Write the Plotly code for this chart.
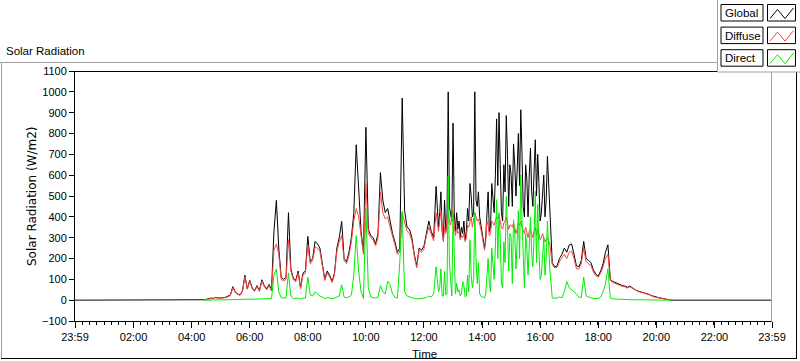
import plotly.graph_objects as go

# ---------------- data ----------------
# morning: 04:00 .. 12:30 every 5 min
# midday : 12:32.5 .. 16:15 every 2.5 min
# evening: 16:20 .. 21:00 every 5 min
morning_times = [240 + 5 * i for i in range(103)]
midday_times = [750 + 2.5 * j for j in range(1, 91)]
evening_times = [980 + 5 * i for i in range(57)]

global_morning = [
    0, 0, 0, 0, 0,
    2, 4, 6, 10, 8,
    14, 10, 10, 12, 14,
    18, 25, 65, 40, 30,
    25, 45, 120, 55, 95,
    60, 45, 70, 45, 98,
    70, 55, 75, 50, 330,
    479, 250, 110, 100, 110,
    420, 150, 105, 95, 140,
    60, 130, 140, 306, 185,
    200, 282, 270, 250, 180,
    100, 140, 120, 90, 130,
    250, 300, 378, 200, 185,
    230, 300, 418, 746, 520,
    330, 230, 830, 340, 310,
    300, 270, 320, 612, 480,
    420, 440, 380, 320, 280,
    230, 250, 970, 430, 350,
    340, 300, 220, 165, 250,
    240, 260, 330, 380, 330,
    300, 546, 350,
]
global_midday = [
    420, 520, 330, 290, 480, 330, 380, 1000, 450, 400,
    380, 850, 420, 330, 420, 340, 380, 300, 350, 320,
    380, 290, 330, 440, 380, 560, 500, 400, 420, 1000,
    480, 450, 520, 400, 360, 330, 280, 250, 300, 450,
    520, 330, 350, 560, 500, 420, 600, 870, 550, 900,
    650, 420, 380, 650, 520, 886, 700, 450, 650, 600,
    450, 750, 650, 500, 620, 800, 550, 914, 700, 450,
    400, 650, 580, 400, 600, 730, 520, 450, 620, 770,
    500, 700, 560, 380, 420, 530, 600, 400, 480, 690,
]
global_evening = [
    420, 180,
    160, 165, 200, 220, 250,
    230, 265, 270, 220, 165,
    160, 190, 282, 200, 190,
    180, 145, 125, 115, 140,
    175, 230, 266, 100, 90,
    85, 80, 72, 70, 68,
    62, 68, 62, 52, 45,
    42, 40, 35, 32, 28,
    22, 18, 15, 12, 10,
    7, 4, 2, 0, 0,
    0, 0, 0, 0, 0,
]

diffuse_morning = [
    None, None, None, None, None,
    1, 3, 5, 8, 7,
    12, 9, 9, 10, 12,
    16, 22, 60, 37, 28,
    23, 42, 112, 52, 90,
    56, 42, 66, 42, 92,
    65, 50, 70, 44, 240,
    270, 220, 100, 92, 100,
    290, 140, 98, 88, 130,
    55, 120, 130, 265, 175,
    190, 255, 250, 235, 170,
    95, 130, 112, 85, 122,
    235, 280, 310, 190, 175,
    215, 280, 380, 440, 400,
    310, 220, 560, 320, 300,
    290, 260, 300, 520, 420,
    390, 400, 350, 300, 265,
    220, 230, 420, 380, 330,
    320, 285, 210, 155, 240,
    230, 245, 310, 350, 315,
    285, 420, 330,
]
diffuse_midday = [
    380, 430, 360, 280, 350, 320, 400, 420, 380, 360,
    400, 430, 360, 310, 350, 320, 330, 290, 310, 300,
    320, 280, 300, 360, 350, 380, 400, 350, 390, 420,
    400, 380, 390, 370, 340, 310, 260, 240, 280, 380,
    360, 310, 320, 380, 370, 360, 380, 400, 390, 410,
    380, 350, 340, 370, 380, 400, 370, 340, 360, 360,
    350, 370, 350, 320, 340, 370, 360, 380, 350, 330,
    320, 350, 330, 300, 330, 340, 320, 300, 330, 350,
    310, 340, 320, 290, 300, 320, 300, 280, 290, 300,
]
diffuse_evening = [
    270, 170,
    155, 158, 185, 200, 220,
    200, 230, 235, 200, 150,
    150, 175, 250, 185, 175,
    165, 135, 118, 110, 130,
    160, 200, 220, 95, 85,
    80, 75, 68, 66, 64,
    58, 64, 58, 48, 42,
    40, 37, 32, 30, 26,
    20, 16, 13, 11, 9,
    6, 3, 2, 0, None,
    None, None, None, None, None,
]

direct_morning = [
    None, None, None, None, None,
    0, 0, 0, 1, 1,
    1, 1, 1, 1, 1,
    2, 2, 3, 3, 3,
    3, 4, 5, 4, 5,
    5, 5, 5, 5, 6,
    6, 6, 6, 8, 120,
    150, 40, 12, 10, 12,
    130, 20, 8, 8, 10,
    6, 10, 10, 110, 25,
    20, 40, 30, 20, 15,
    8, 12, 10, 8, 10,
    15, 20, 74, 15, 12,
    15, 25, 120, 310, 140,
    40, 8, 440, 60, 15,
    12, 10, 15, 70, 40,
    30, 90, 75, 30, 15,
    10, 180, 426, 40, 20,
    15, 10, 8, 6, 8,
    8, 10, 12, 20, 15,
    30, 160, 40,
]
direct_midday = [
    60, 150, 20, 20, 140, 25, 30, 594, 180, 100,
    20, 420, 160, 30, 80, 40, 50, 20, 30, 90,
    70, 15, 20, 120, 40, 290, 120, 60, 100, 420,
    200, 80, 180, 30, 20, 15, 15, 10, 30, 150,
    200, 80, 40, 250, 160, 100, 260, 482, 200, 420,
    300, 80, 60, 280, 180, 498, 350, 140, 320, 300,
    80, 386, 320, 150, 280, 430, 200, 602, 380, 150,
    60, 320, 250, 120, 300, 400, 220, 160, 310, 522,
    180, 460, 240, 100, 120, 250, 300, 120, 200, 380,
]
direct_evening = [
    150, 10,
    10, 10, 15, 12, 40,
    90, 60, 50, 40, 30,
    15, 12, 110, 20, 15,
    10, 8, 8, 8, 15,
    40, 80, 150, 10, 6,
    5, 5, 4, 4, 4,
    3, 3, 2, 2, 2,
    2, 2, 1, 1, 1,
    1, 1, 1, 1, 1,
    0, 0, 0, 0, None,
    None, None, None, None, None,
]

x_tick_minutes = [-1, 120, 240, 360, 480, 600, 720, 840, 960, 1080, 1200, 1320, 1439]
x_tick_labels = ["23:59", "02:00", "04:00", "06:00", "08:00", "10:00", "12:00",
                 "14:00", "16:00", "18:00", "20:00", "22:00", "23:59"]
y_ticks = list(range(-100, 1101, 100))

series_names = ["Global", "Diffuse", "Direct"]
series_colors = ["#000000", "#ff4444", "#00ee00"]

# ---------------- build ----------------
times = morning_times + midday_times + evening_times
global_wm2 = global_morning + global_midday + global_evening
diffuse_wm2 = diffuse_morning + diffuse_midday + diffuse_evening
direct_wm2 = direct_morning + direct_midday + direct_evening
day_start, day_end = -1, 1439

traces_data = [
    ([day_start] + times + [day_end], [0] + global_wm2 + [0]),
    (times, diffuse_wm2),
    (times, direct_wm2),
]

fig = go.Figure()
for (xs, ys), name, color in zip(traces_data, series_names, series_colors):
    fig.add_trace(go.Scatter(x=xs, y=ys, mode="lines", name=name,
                             line=dict(color=color, width=1), connectgaps=False,
                             hoverinfo="skip"))

W, H = 800, 361
L, R, T, B = 75, 772, 71, 321
FONT = "Liberation Sans, Arial, sans-serif"


def px(x):
    return (x - L) / (R - L)


def py(y):
    return (B - y) / (B - T)


shapes = []


def line(x0, y0, x1, y1, color, width=1):
    shapes.append(dict(type="line", xref="paper", yref="paper",
                       x0=px(x0), y0=py(y0), x1=px(x1), y1=py(y1),
                       line=dict(color=color, width=width), layer="above"))


def rect(x0, y0, x1, y1, color, fill="white", width=1):
    shapes.append(dict(type="rect", xref="paper", yref="paper",
                       x0=px(x0), y0=py(y0), x1=px(x1), y1=py(y1),
                       line=dict(color=color, width=width), fillcolor=fill,
                       layer="above"))


# outer panel frame
line(0, 62.5, 717, 62.5, "#a0a0a0")
line(1.5, 62, 1.5, 359, "#a0a0a0")
line(1, 358.5, 797, 358.5, "#000000")
line(796.5, 72, 796.5, 359, "#000000")
# plot area frame: top dark, right gray
line(L, 71.5, 717, 71.5, "#000000")
line(771.5, 71, 771.5, 321.5, "#a0a0a0")

# legend panel
rect(717.5, -2, 802, 72, "#a0a0a0", fill="white")
annotations = []
for i, (name, color) in enumerate(zip(series_names, series_colors)):
    yt = 4.5 + 22.6 * i
    rect(721, yt, 763, yt + 16.5, "#000000")
    rect(767.5, yt, 795.5, yt + 16.5, "#000000")
    pts = [(770, yt + 14), (777.5, yt + 5), (785, yt + 14), (793.5, yt + 3.5)]
    path = "M " + " L ".join(f"{px(a)},{py(b)}" for a, b in pts)
    shapes.append(dict(type="path", xref="paper", yref="paper", path=path,
                       line=dict(color=color, width=1), layer="above"))
    annotations.append(dict(xref="paper", yref="paper", x=px(723), y=py(yt + 8.5),
                            xanchor="left", yanchor="middle", showarrow=False,
                            text=name, font=dict(family=FONT, size=11.5, color="#000")))

annotations += [
    dict(xref="paper", yref="paper", x=px(4), y=py(51), xanchor="left", yanchor="middle",
         showarrow=False, text="Solar Radiation",
         font=dict(family=FONT, size=11.5, color="#000")),
    dict(xref="paper", yref="paper", x=px(32), y=py(196), xanchor="center", yanchor="middle",
         showarrow=False, text="Solar Radiation (W/m2)", textangle=-90,
         font=dict(family="DejaVu Sans, sans-serif", size=12, color="#000")),
    dict(xref="paper", yref="paper", x=px(424), y=py(354), xanchor="center", yanchor="middle",
         showarrow=False, text="Time",
         font=dict(family=FONT, size=11.5, color="#000")),
]

fig.update_layout(
    width=W, height=H,
    margin=dict(l=L, r=W - R, t=T, b=H - B, pad=0),
    paper_bgcolor="white", plot_bgcolor="white",
    showlegend=False,
    shapes=shapes, annotations=annotations,
    xaxis=dict(range=[day_start, day_end], tickmode="array", tickvals=x_tick_minutes,
               ticktext=x_tick_labels, ticks="outside", ticklen=6, tickcolor="#000",
               tickwidth=1, showline=True, linecolor="#000", linewidth=1,
               showgrid=False, zeroline=False,
               tickfont=dict(family=FONT, size=11, color="#000"),
               minor=dict(tick0=-1, dtick=15, ticks="outside", ticklen=3,
                          tickcolor="#000", tickwidth=1, showgrid=False)),
    yaxis=dict(range=[-100, 1100], tickmode="array", tickvals=y_ticks,
               ticks="outside", ticklen=5, tickcolor="#000", tickwidth=1,
               showline=True, linecolor="#000", linewidth=1,
               showgrid=False, zeroline=False,
               tickfont=dict(family=FONT, size=11, color="#000")),
)

fig.write_html(
    "out.html",
    config={"displayModeBar": False, "responsive": False},
    post_script="document.body.style.margin='0';document.body.style.overflow='hidden';",
)
